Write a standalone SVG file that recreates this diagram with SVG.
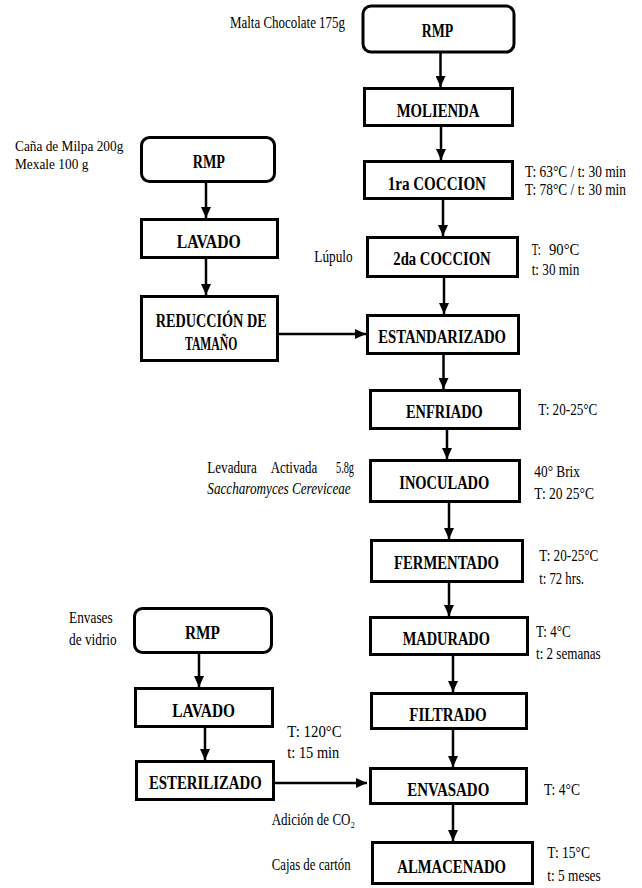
<svg xmlns="http://www.w3.org/2000/svg" width="642" height="888" viewBox="0 0 642 888">
<style>
.box{fill:#fff;stroke:#000;stroke-width:3}
.b{font-family:"Liberation Serif","Times New Roman",serif;font-weight:bold;font-size:18.5px;fill:#000}
.t{font-family:"Liberation Serif","Times New Roman",serif;font-size:17.5px;fill:#000}
.s{font-size:15.5px}
.i{font-style:italic}
.c{stroke:#000;stroke-width:2.5;fill:none}
</style>
<defs>
<marker id="ah" markerUnits="userSpaceOnUse" markerWidth="12" markerHeight="10" refX="11" refY="5" orient="auto">
<path d="M0,0 L11,5 L0,10 Z" fill="#000"/>
</marker>
</defs>
<rect width="642" height="888" fill="#fff"/>
<g id="connectors">
<line class="c" x1="440.5" y1="53" x2="440.5" y2="87" marker-end="url(#ah)"/>
<line class="c" x1="441" y1="127" x2="441" y2="160" marker-end="url(#ah)"/>
<line class="c" x1="443" y1="200" x2="443" y2="236" marker-end="url(#ah)"/>
<line class="c" x1="444" y1="278" x2="444" y2="314" marker-end="url(#ah)"/>
<line class="c" x1="443.5" y1="355" x2="443.5" y2="389" marker-end="url(#ah)"/>
<line class="c" x1="447" y1="430" x2="447" y2="459" marker-end="url(#ah)"/>
<line class="c" x1="449" y1="503" x2="449" y2="539" marker-end="url(#ah)"/>
<line class="c" x1="449" y1="583" x2="449" y2="616" marker-end="url(#ah)"/>
<line class="c" x1="453" y1="656" x2="453" y2="692" marker-end="url(#ah)"/>
<line class="c" x1="453" y1="730" x2="453" y2="767" marker-end="url(#ah)"/>
<line class="c" x1="453" y1="805" x2="453" y2="841" marker-end="url(#ah)"/>
<line class="c" x1="206" y1="183" x2="206" y2="218" marker-end="url(#ah)"/>
<line class="c" x1="206" y1="259" x2="206" y2="295" marker-end="url(#ah)"/>
<line class="c" x1="279" y1="334" x2="366" y2="334" marker-end="url(#ah)"/>
<line class="c" x1="199" y1="654" x2="199" y2="687" marker-end="url(#ah)"/>
<line class="c" x1="205" y1="728" x2="205" y2="760" marker-end="url(#ah)"/>
<line class="c" x1="275" y1="783" x2="367" y2="783" marker-end="url(#ah)"/>
</g>
<g id="rmp1"><rect class="box" x="363" y="6" width="151" height="46" rx="8"/><text class="b" x="421.7" y="36.7" textLength="31.6" lengthAdjust="spacingAndGlyphs">RMP</text></g>
<g id="molienda"><rect class="box" x="364.5" y="88.5" width="148" height="37"/><text class="b" x="396.7" y="116.7" textLength="82.7" lengthAdjust="spacingAndGlyphs">MOLIENDA</text></g>
<g id="coccion1"><rect class="box" x="364.5" y="161.5" width="148" height="37"/><text class="b" x="387.7" y="190" textLength="98.3" lengthAdjust="spacingAndGlyphs">1ra COCCION</text></g>
<g id="coccion2"><rect class="box" x="367.5" y="237.5" width="150" height="39"/><text class="b" x="393.3" y="265" textLength="97.4" lengthAdjust="spacingAndGlyphs">2da COCCION</text></g>
<g id="estandarizado"><rect class="box" x="367.5" y="315.5" width="151" height="38"/><text class="b" x="378.3" y="343.3" textLength="127.7" lengthAdjust="spacingAndGlyphs">ESTANDARIZADO</text></g>
<g id="enfriado"><rect class="box" x="370.5" y="390.5" width="149" height="38"/><text class="b" x="406" y="418.3" textLength="76.7" lengthAdjust="spacingAndGlyphs">ENFRIADO</text></g>
<g id="inoculado"><rect class="box" x="370.5" y="460.5" width="149" height="41"/><text class="b" x="399.3" y="489" textLength="90" lengthAdjust="spacingAndGlyphs">INOCULADO</text></g>
<g id="fermentado"><rect class="box" x="371.5" y="540.5" width="151" height="41"/><text class="b" x="394" y="569.3" textLength="105" lengthAdjust="spacingAndGlyphs">FERMENTADO</text></g>
<g id="madurado"><rect class="box" x="370.5" y="617.5" width="157" height="37"/><text class="b" x="402.7" y="645" textLength="87.3" lengthAdjust="spacingAndGlyphs">MADURADO</text></g>
<g id="filtrado"><rect class="box" x="371.5" y="693.5" width="155" height="35"/><text class="b" x="409.3" y="720.7" textLength="77.4" lengthAdjust="spacingAndGlyphs">FILTRADO</text></g>
<g id="envasado"><rect class="box" x="370.5" y="768.5" width="156" height="35"/><text class="b" x="407.3" y="796" textLength="82" lengthAdjust="spacingAndGlyphs">ENVASADO</text></g>
<g id="almacenado"><rect class="box" x="372.5" y="842.5" width="160" height="41"/><text class="b" x="397.3" y="872.7" textLength="108.7" lengthAdjust="spacingAndGlyphs">ALMACENADO</text></g>
<g id="rmp2"><rect class="box" x="141.5" y="137.5" width="133" height="44" rx="8"/><text class="b" x="192.7" y="168.3" textLength="32.3" lengthAdjust="spacingAndGlyphs">RMP</text></g>
<g id="lavado1"><rect class="box" x="141.5" y="219.5" width="136" height="38"/><text class="b" x="176.7" y="248.3" textLength="64" lengthAdjust="spacingAndGlyphs">LAVADO</text></g>
<g id="reduccion"><rect class="box" x="141.5" y="296.5" width="136" height="64"/><text class="b" x="155.7" y="326.7" textLength="111" lengthAdjust="spacingAndGlyphs">REDUCCIÓN DE</text><text class="b" x="185" y="350" textLength="52.3" lengthAdjust="spacingAndGlyphs">TAMAÑO</text></g>
<g id="rmp3"><rect class="box" x="134.5" y="608.5" width="137" height="44" rx="8"/><text class="b" x="185" y="639.3" textLength="35" lengthAdjust="spacingAndGlyphs">RMP</text></g>
<g id="lavado2"><rect class="box" x="135.5" y="688.5" width="137" height="38"/><text class="b" x="172.3" y="716.7" textLength="62.7" lengthAdjust="spacingAndGlyphs">LAVADO</text></g>
<g id="esterilizado"><rect class="box" x="136.5" y="761.5" width="137" height="38"/><text class="b" x="149" y="789.3" textLength="112.7" lengthAdjust="spacingAndGlyphs">ESTERILIZADO</text></g>
<g id="annotations">
<text class="t" x="230" y="28" textLength="115" lengthAdjust="spacingAndGlyphs">Malta Chocolate 175g</text>
<text class="t" transform="translate(525,176.7) scale(0.78,1)" x="0" y="0" textLength="129.5" lengthAdjust="spacingAndGlyphs">T: 63°C / t: 30 min</text>
<text class="t" transform="translate(525,195) scale(0.78,1)" x="0" y="0" textLength="129.5" lengthAdjust="spacingAndGlyphs">T: 78°C / t: 30 min</text>
<text class="t s" x="15" y="151.2" textLength="108.3" lengthAdjust="spacingAndGlyphs">Caña de Milpa 200g</text>
<text class="t s" x="15" y="168.8" textLength="73.3" lengthAdjust="spacingAndGlyphs">Mexale 100 g</text>
<text class="t" x="314.3" y="261.7" textLength="38.4" lengthAdjust="spacingAndGlyphs">Lúpulo</text>
<text class="t" x="531.7" y="255" textLength="9" lengthAdjust="spacingAndGlyphs">T:</text>
<text class="t" x="549" y="255" textLength="30.3" lengthAdjust="spacingAndGlyphs">90°C</text>
<text class="t" x="531.7" y="275" textLength="47.6" lengthAdjust="spacingAndGlyphs">t: 30 min</text>
<text class="t" x="538.3" y="415" textLength="59" lengthAdjust="spacingAndGlyphs">T: 20-25°C</text>
<text class="t" x="207.3" y="473.3" textLength="49.4" lengthAdjust="spacingAndGlyphs">Levadura</text>
<text class="t" x="270.7" y="473.3" textLength="46.6" lengthAdjust="spacingAndGlyphs">Activada</text>
<text class="t" x="336" y="473.3" textLength="18" lengthAdjust="spacingAndGlyphs">5.8g</text>
<text class="t i" x="207.3" y="494" textLength="143.4" lengthAdjust="spacingAndGlyphs">Saccharomyces Cereviceae</text>
<text class="t" x="534.3" y="477.3" textLength="45.7" lengthAdjust="spacingAndGlyphs">40° Brix</text>
<text class="t" x="534.3" y="499.3" textLength="59.7" lengthAdjust="spacingAndGlyphs">T: 20 25°C</text>
<text class="t" x="539.3" y="560.7" textLength="59" lengthAdjust="spacingAndGlyphs">T: 20-25°C</text>
<text class="t" x="539.3" y="584" textLength="44.7" lengthAdjust="spacingAndGlyphs">t: 72 hrs.</text>
<text class="t" x="69" y="623.3" textLength="43.7" lengthAdjust="spacingAndGlyphs">Envases</text>
<text class="t" x="69" y="645" textLength="47.7" lengthAdjust="spacingAndGlyphs">de vidrio</text>
<text class="t" x="536" y="636.7" textLength="34.7" lengthAdjust="spacingAndGlyphs">T: 4°C</text>
<text class="t" x="536" y="659.3" textLength="64.7" lengthAdjust="spacingAndGlyphs">t: 2 semanas</text>
<text class="t" x="287.3" y="737.3" textLength="54.4" lengthAdjust="spacingAndGlyphs">T: 120°C</text>
<text class="t" x="287.3" y="758.3" textLength="52" lengthAdjust="spacingAndGlyphs">t: 15 min</text>
<text class="t" x="544" y="795" textLength="36" lengthAdjust="spacingAndGlyphs">T: 4°C</text>
<text class="t" x="271.7" y="825" textLength="83.3" lengthAdjust="spacingAndGlyphs">Adición de CO₂</text>
<text class="t" x="271.7" y="870" textLength="79" lengthAdjust="spacingAndGlyphs">Cajas de cartón</text>
<text class="t" x="547.3" y="858.3" textLength="42.7" lengthAdjust="spacingAndGlyphs">T: 15°C</text>
<text class="t" x="547.3" y="880.7" textLength="53.4" lengthAdjust="spacingAndGlyphs">t: 5 meses</text>
</g>
</svg>
